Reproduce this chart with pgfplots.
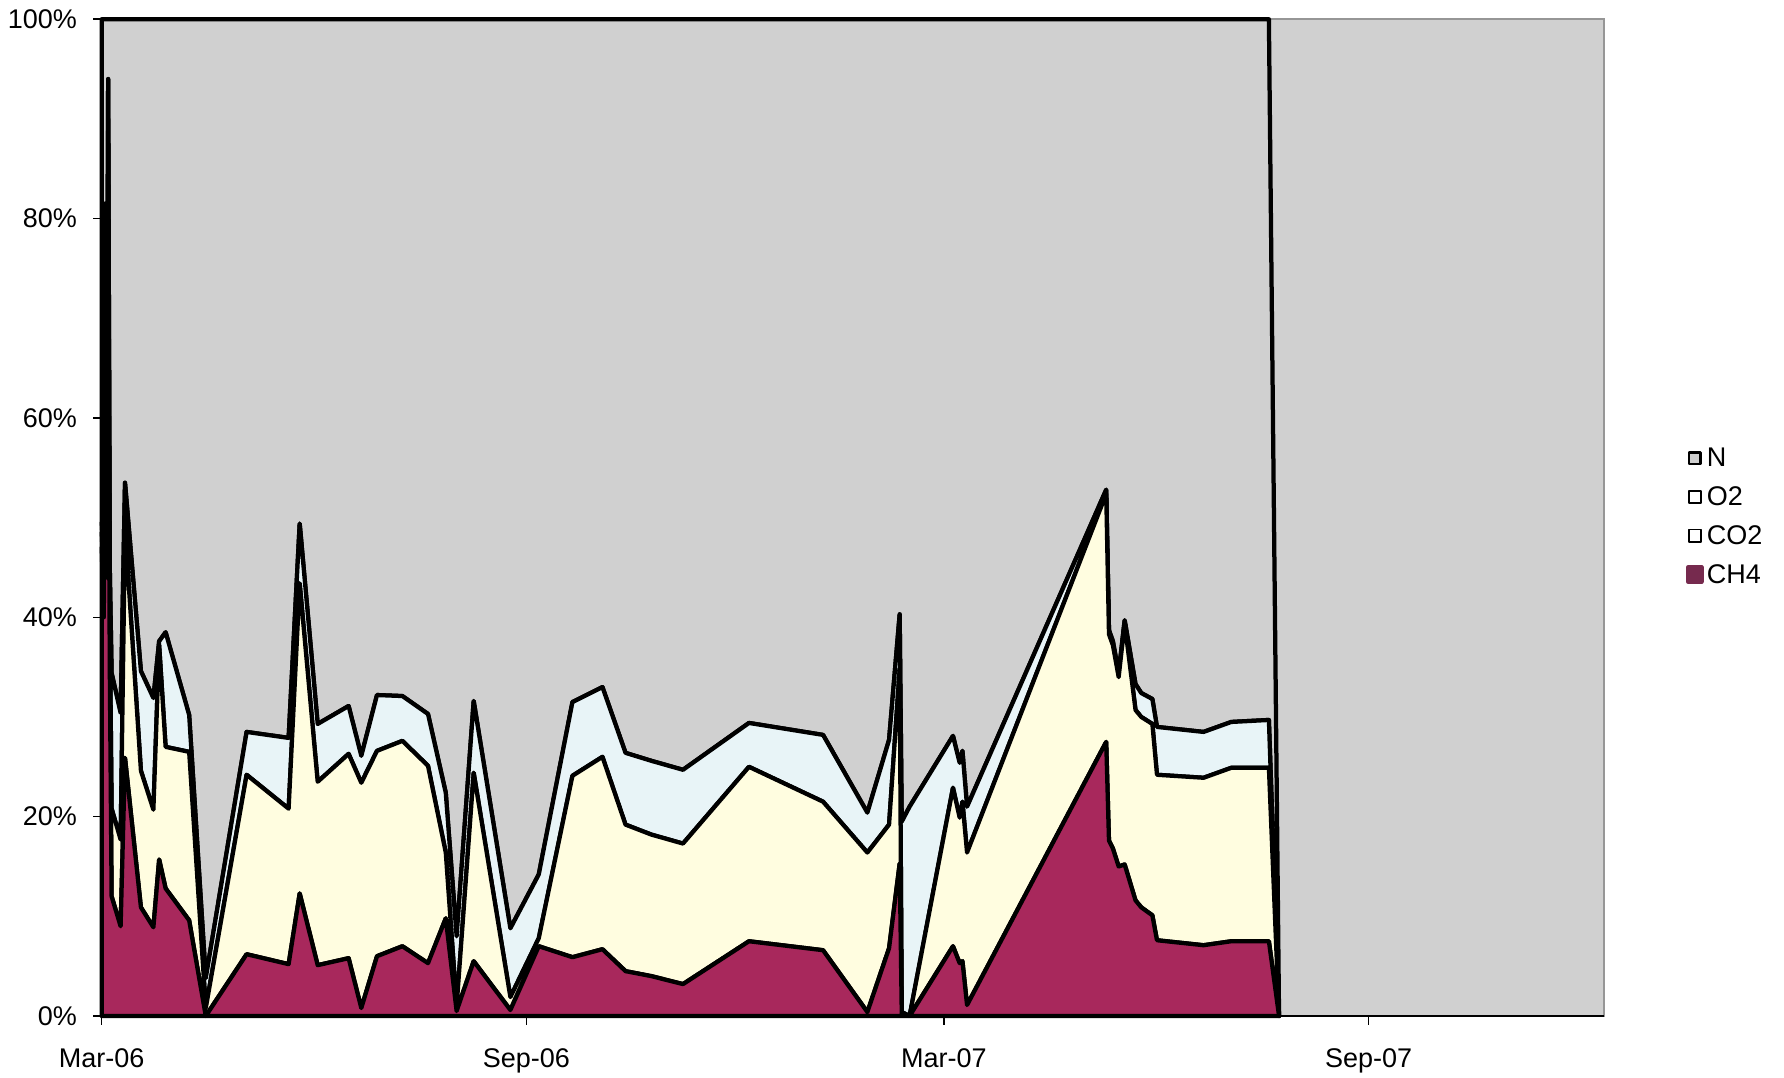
\documentclass[border=0pt]{standalone}
\usepackage{pgfplots}
\usepackage{pgfplotstable}
\usepackage{fontspec}
\setmainfont{Liberation Sans}
\pgfplotsset{compat=1.18}

\definecolor{ngray}{RGB}{208,208,208}
\definecolor{otwo}{RGB}{232,244,247}
\definecolor{cotwo}{RGB}{255,253,224}
\definecolor{chfour}{RGB}{168,40,92}
\definecolor{chfourkey}{RGB}{118,42,78}
\definecolor{plotframe}{RGB}{150,150,150}

% Gas composition (% of sample), day 0 = 1 March 2006
\pgfplotstableread{
day   ch4   co2   o2    n
0.0   47.0  1.5   1.0   50.5
0.9   40.0  4.0   2.0   54.0
1.5   60.0  18.0  3.5   18.5
2.2   44.0  2.0   2.0   52.0
2.8   70.0  20.0  4.0   6.0
3.5   35.0  5.0   5.0   55.0
4.3   12.0  8.8   13.6  65.6
8.2   9.0   8.7   12.7  69.6
10.1  25.9  23.1  4.5   46.5
17.0  10.9  13.7  10.0  65.4
22.4  8.9   11.8  11.2  68.1
24.9  15.7  21.5  0.4   62.4
27.7  12.8  14.2  11.5  61.5
37.9  9.6   16.9  3.7   69.8
45.1  0.0   0.8   3.0   96.2
62.8  6.2   18.0  4.3   71.5
81.0  5.2   15.6  7.1   72.1
85.8  12.3  31.1  6.0   50.6
93.6  5.1   18.4  5.8   70.7
107.0 5.8   20.5  4.8   68.9
112.5 0.8   22.6  2.7   73.9
119.3 6.0   20.6  5.6   67.8
130.3 7.0   20.6  4.5   67.9
141.4 5.3   19.8  5.2   69.7
149.1 9.8   6.6   6.0   77.6
153.8 0.5   0.5   7.0   92.0
161.2 5.5   18.9  7.2   68.4
177.1 0.6   1.3   6.9   91.2
189.4 7.0   0.8   6.4   85.8
204.0 5.9   18.2  7.4   68.5
217.0 6.7   19.3  7.0   67.0
227.0 4.5   14.7  7.2   73.6
238.2 4.0   14.2  7.4   74.4
251.9 3.2   14.1  7.4   75.3
280.5 7.5   17.5  4.4   70.6
312.6 6.6   14.9  6.7   71.8
331.8 0.4   16.0  4.0   79.6
341.2 6.8   12.4  8.5   72.3
345.8 15.3  19.5  5.5   59.7
346.7 0.2   0.2   19.1  80.5
350.1 0.0   0.0   21.0  79.0
368.9 7.0   15.9  5.2   71.9
371.8 5.3   14.6  5.5   74.6
373.0 5.5   16.0  5.1   73.4
375.0 1.1   15.3  4.6   79.0
435.3 27.5  24.9  0.4   47.2
436.5 17.6  20.7  0.4   61.3
438.2 16.8  20.4  0.4   62.4
440.7 15.0  19.0  0.4   65.6
443.3 15.2  24.2  0.3   60.3
448.0 11.6  19.1  2.6   66.7
450.5 10.9  19.1  2.4   67.6
455.3 10.1  19.2  2.5   68.2
457.3 7.6   16.6  4.8   71.0
477.5 7.1   16.8  4.6   71.5
489.5 7.5   17.4  4.6   70.5
505.8 7.5   17.4  4.8   70.3
510.2 0.0   0.0   0.0   0.0
}\gasdata

\begin{document}
\begin{tikzpicture}
\useasboundingbox (0,0) rectangle (713.6pt,430.8pt);
\begin{axis}[
  at={(40.68pt,24.4pt)}, anchor=south west,
  scale only axis, width=600.9pt, height=398.7pt,
  xmin=0, xmax=651, ymin=0, ymax=100,
  stack plots=y,
  axis x line=bottom, axis y line=left,
  axis line style={-, black, line width=0.8pt},
  axis background/.style={fill=ngray, draw=plotframe, line width=0.8pt},
  tick align=outside, major tick length=3.4pt,
  tick style={black, line width=0.6pt},
  xtick={0,184,365,549},
  xticklabels={Mar-06,Sep-06,Mar-07,Sep-07},
  ytick={0,20,...,100},
  yticklabel={\pgfmathprintnumber{\tick}\%},
  /pgf/number format/assume math mode=true,
  ticklabel style={font=\fontsize{10.8}{12}\selectfont},
  yticklabel style={inner sep=0pt, xshift=-6.3pt},
  xticklabel style={inner sep=0pt, yshift=-9.3pt},
  clip=false, axis on top,
  every axis plot/.append style={draw=black, line width=1.7pt, line join=round},
  reverse legend,
  legend cell align=left,
  legend style={at={(1.054,0.5)}, anchor=west, draw=none, fill=none,
    inner sep=0pt, row sep=6.5pt,
    font=\fontsize{10.8}{12}\selectfont,
    nodes={inner sep=0pt},
    /tikz/every odd column/.append style={column sep=1.2pt}},
]
\addplot[fill=chfour,
  legend image code/.code={\fill[chfourkey] (0pt,-2.3pt) rectangle (5.6pt,3.3pt);}]
  table[x=day, y=ch4] {\gasdata} \closedcycle;
\addlegendentry{CH4}
\addplot[fill=cotwo,
  legend image code/.code={\draw[fill=white, line width=0.75pt] (0.35pt,-1.95pt) rectangle (5.25pt,2.95pt);}]
  table[x=day, y=co2] {\gasdata} \closedcycle;
\addlegendentry{CO2}
\addplot[fill=otwo,
  legend image code/.code={\draw[fill=white, line width=0.75pt] (0.35pt,-1.95pt) rectangle (5.25pt,2.95pt);}]
  table[x=day, y=o2] {\gasdata} \closedcycle;
\addlegendentry{O2}
\addplot[fill=ngray,
  legend image code/.code={\draw[fill=ngray, line width=1.05pt] (0.5pt,-1.8pt) rectangle (5.1pt,2.8pt);}]
  table[x=day, y=n] {\gasdata} \closedcycle;
\addlegendentry{N}
\end{axis}
\end{tikzpicture}
\end{document}
